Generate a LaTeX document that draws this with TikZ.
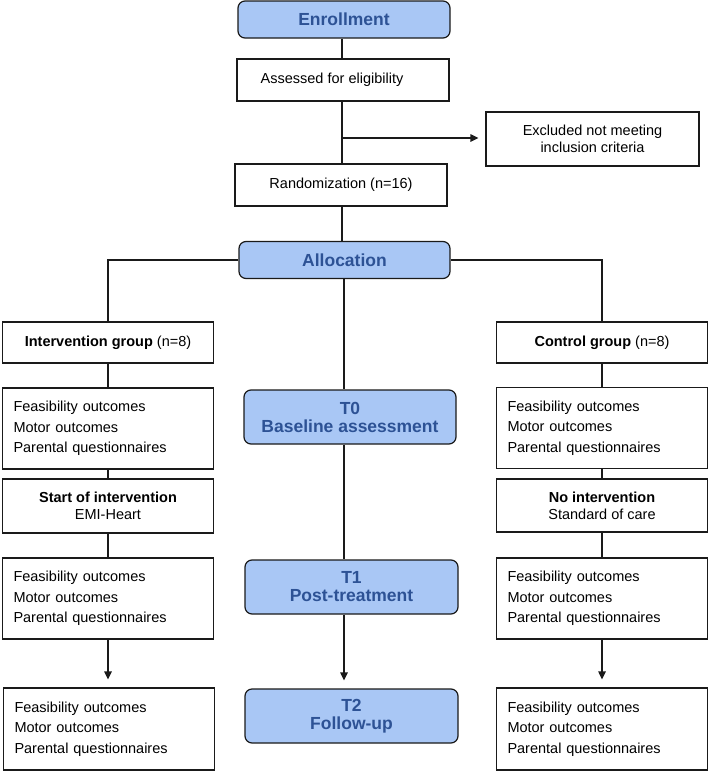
\documentclass[tikz,border=0pt]{standalone}
\usepackage{fontspec}
\setmainfont{Liberation Sans}
\usetikzlibrary{arrows.meta}
\definecolor{bfill}{HTML}{A9C7F5}
\definecolor{btext}{HTML}{2D5295}
\definecolor{lcol}{HTML}{1A1A1A}
\tikzset{
  box/.style={draw=lcol, line width=1.2pt, fill=white, inner sep=0pt, font=\fontsize{14.5}{16.7}\selectfont, align=center},
  listbox/.style={box, align=left, text width=189pt, inner xsep=11pt, font=\fontsize{14.5}{20.3}\selectfont},
  stage/.style={draw=lcol, line width=1.2pt, fill=bfill, rounded corners=7pt, inner sep=0pt, text=btext, font=\fontsize{17.5}{18}\selectfont\bfseries, align=center},
  conn/.style={draw=lcol, line width=1.2pt},
  arr/.style={conn, -{Triangle[length=8pt,width=7.5pt]}, shorten >=8pt}
}
\begin{document}
\begin{tikzpicture}[x=1pt,y=-1pt]
\useasboundingbox (0,0) rectangle (710,771);
% centre column
\node[stage, minimum width=212pt, minimum height=37pt] (enroll) at (344,19.5) {Enrollment};
\node[box, minimum width=212pt, minimum height=42pt] (assess) at (343,80) {Assessed for eligibility\hspace*{22pt}};
\node[box, minimum width=213pt, minimum height=54pt] (excl) at (592.5,139) {Excluded not meeting\\inclusion criteria};
\node[box, minimum width=212pt, minimum height=42pt] (rand) at (341,185) {Randomization (n=16)};
\node[stage, minimum width=211pt, minimum height=37pt] (alloc) at (344.5,260) {Allocation};
\node[stage, minimum width=212pt, minimum height=54pt] (t0) at (350,417) {T0\\Baseline assessment};
\node[stage, minimum width=213pt, minimum height=54pt] (t1) at (351.5,587) {T1\\Post-treatment};
\node[stage, minimum width=213pt, minimum height=54pt] (t2) at (351.5,716) {T2\\Follow-up};
% left column
\node[box, minimum width=211pt, minimum height=41pt] (intv) at (108,342.5) {\textbf{Intervention group} (n=8)};
\node[listbox, minimum height=81pt] (lf1) at (108,428.5) {Feasibility outcomes\\Motor outcomes\\Parental questionnaires};
\node[box, minimum width=211pt, minimum height=54pt] (start) at (108,506) {\textbf{Start of intervention}\\EMI-Heart};
\node[listbox, minimum height=81pt] (lf2) at (108,598.5) {Feasibility outcomes\\Motor outcomes\\Parental questionnaires};
\node[listbox, minimum height=82pt] (lf3) at (109,729) {Feasibility outcomes\\Motor outcomes\\Parental questionnaires};
% right column
\node[box, minimum width=211pt, minimum height=41pt] (ctrl) at (602,342.5) {\textbf{Control group} (n=8)};
\node[listbox, minimum height=81pt] (rf1) at (602,428) {Feasibility outcomes\\Motor outcomes\\Parental questionnaires};
\node[box, minimum width=211pt, minimum height=53pt] (noint) at (602,505.5) {\textbf{No intervention}\\Standard of care};
\node[listbox, minimum height=81pt] (rf2) at (602,598.5) {Feasibility outcomes\\Motor outcomes\\Parental questionnaires};
\node[listbox, minimum height=82pt] (rf3) at (602,729) {Feasibility outcomes\\Motor outcomes\\Parental questionnaires};
% connectors
\coordinate (br) at (342,138);
\draw[conn] (enroll.south -| br) -- (assess.north -| br);
\draw[conn] (assess.south -| br) -- (rand.north -| br);
\draw[arr, shorten >=7pt] (br) -- (br -| excl.west);
\draw[conn] (rand.south -| br) -- (alloc.north -| br);
\draw[conn] (alloc.west) -| (intv.north);
\draw[conn] (alloc.east) -| (ctrl.north);
\draw[conn] (alloc.south -| 344,0) -- (t0.north -| 344,0);
\draw[conn] (t0.south -| 344,0) -- (t1.north -| 344,0);
\draw[arr] (t1.south -| 344,0) -- (t2.north -| 344,0);
\draw[conn] (intv.south) -- (lf1.north);
\draw[conn] (lf1.south) -- (start.north);
\draw[conn] (start.south) -- (lf2.north);
\draw[arr] (lf2.south) -- (lf2.south |- lf3.north);
\draw[conn] (ctrl.south) -- (rf1.north);
\draw[conn] (rf1.south) -- (noint.north);
\draw[conn] (noint.south) -- (rf2.north);
\draw[arr] (rf2.south) -- (rf3.north);
\end{tikzpicture}
\end{document}
